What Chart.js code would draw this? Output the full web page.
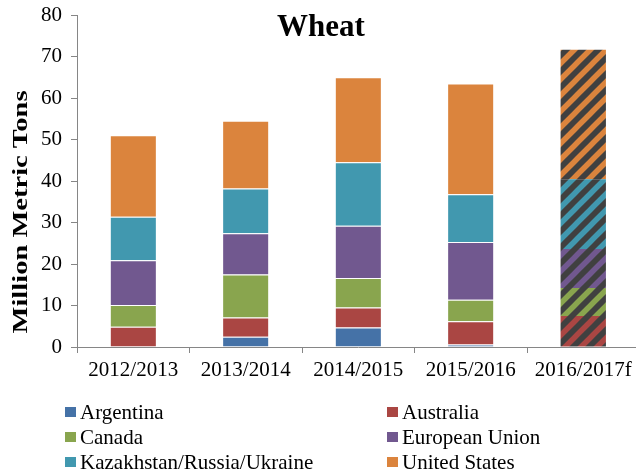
<!DOCTYPE html>
<html>
<head>
<meta charset="utf-8">
<script src="https://cdn.jsdelivr.net/npm/chart.js@4"></script>
<style>
  html, body { margin: 0; padding: 0; background: #fff; overflow: hidden; width: 636px; height: 474px; }
  #wrap { position: relative; width: 642px; height: 474px; }
</style>
</head>
<body>
<div id="wrap"><canvas id="chart" width="642" height="474"></canvas></div>
<script>
/* ---------- Data (million metric tons) ---------- */
const categories = ["2012/2013", "2013/2014", "2014/2015", "2015/2016", "2016/2017f"];
const argentina  = [0, 2.5, 4.7, 0.6, 0];
const australia  = [4.9, 4.6, 4.8, 5.6, 7.5];
const canada     = [5.2, 10.4, 7.1, 5.2, 6.7];
const eu         = [10.8, 9.9, 12.6, 13.9, 9.4];
const kru        = [10.5, 10.8, 15.3, 11.5, 16.8];
const us         = [19.6, 16.3, 20.5, 26.7, 31.2];
const yTicks     = [0, 10, 20, 30, 40, 50, 60, 70, 80];

const seriesNames  = ["Argentina", "Australia", "Canada", "European Union", "Kazakhstan/Russia/Ukraine", "United States"];
const seriesValues = [argentina, australia, canada, eu, kru, us];
const seriesColors = ["#4572A7", "#AA4643", "#89A54E", "#71588F", "#4198AF", "#DB843D"];

const FONT = '"Liberation Serif", "Times New Roman", serif';
const AXIS = "#868686";

/* ---------- Hatch pattern for forecast column ---------- */
const canvas = document.getElementById("chart");
const ctx = canvas.getContext("2d");

function hatch(color) {
  const t = document.createElement("canvas");
  t.width = 16; t.height = 16;
  const g = t.getContext("2d");
  g.fillStyle = "#404040";
  g.fillRect(0, 0, 16, 16);
  g.strokeStyle = color;
  g.lineWidth = 5.5;
  g.beginPath();
  g.moveTo(-4, 4);  g.lineTo(4, -4);
  g.moveTo(0, 16);  g.lineTo(16, 0);
  g.moveTo(12, 20); g.lineTo(20, 12);
  g.stroke();
  return ctx.createPattern(t, "repeat");
}

const isForecast = (i) => categories[i].endsWith("f");

/* ---------- Title, axis title and legend drawn on canvas ---------- */
const extras = {
  id: "extras",
  afterDraw(chart) {
    const c = chart.ctx;
    c.save();
    c.fillStyle = "#000";

    // chart title
    c.font = `bold 31px ${FONT}`;
    c.textAlign = "center";
    c.textBaseline = "alphabetic";
    c.fillText("Wheat", 321, 36);

    // y axis title (stretched along its length like the reference)
    const label = "Million Metric Tons";
    c.font = `bold 21px ${FONT}`;
    const w = c.measureText(label).width;
    c.save();
    c.translate(27, 212);
    c.rotate(-Math.PI / 2);
    c.scale(243 / w, 1);
    c.fillText(label, 0, 0);
    c.restore();

    // legend: two columns, three rows
    c.font = `21px ${FONT}`;
    c.textAlign = "left";
    c.textBaseline = "middle";
    seriesNames.forEach((name, i) => {
      const col = i % 2, row = Math.floor(i / 2);
      const x = col ? 387 : 65;
      const y = 412 + row * 25;
      c.fillStyle = seriesColors[i];
      c.fillRect(x, y - 5, 11, 10);
      c.fillStyle = "#000";
      c.fillText(name, x + 15, y + 1);
    });
    c.restore();
  }
};

/* ---------- Chart ---------- */
new Chart(ctx, {
  type: "bar",
  data: {
    labels: categories,
    datasets: seriesNames.map((name, i) => {
      const pat = hatch(seriesColors[i]);
      return {
        label: name,
        data: seriesValues[i],
        backgroundColor: (c) => (isForecast(c.dataIndex) ? pat : seriesColors[i]),
        borderColor: "rgba(255,255,255,0.45)",
        borderWidth: (c) => (isForecast(c.dataIndex) ? 0 : { top: 1, left: 0, right: 0, bottom: 0 }),
        borderSkipped: false,
        barPercentage: 0.403,
        categoryPercentage: 1,
        stack: "s",
      };
    }),
  },
  options: {
    responsive: false,
    animation: false,
    devicePixelRatio: 1,
    layout: { padding: { top: 15, left: 0, right: 2.5, bottom: 87 } },
    plugins: { legend: { display: false }, tooltip: { enabled: false }, title: { display: false } },
    scales: {
      x: {
        stacked: true,
        grid: { drawOnChartArea: false, drawTicks: true, tickLength: 6, color: AXIS, offset: true },
        border: { color: AXIS, width: 1 },
        ticks: { color: "#000", font: { family: FONT, size: 21 }, padding: 5, maxRotation: 0, autoSkip: false },
        afterFit: (s) => { s.height = 40; },
      },
      y: {
        stacked: true,
        min: yTicks[0],
        max: yTicks[yTicks.length - 1],
        afterBuildTicks: (s) => { s.ticks = yTicks.map((v) => ({ value: v })); },
        grid: { drawOnChartArea: false, drawTicks: true, tickLength: 6, color: AXIS },
        border: { color: AXIS, width: 1 },
        ticks: { color: "#000", font: { family: FONT, size: 21 }, padding: 9 },
        afterFit: (s) => { s.width = 77; s.paddingTop = 0; s.paddingBottom = 0; },
      },
    },
  },
  plugins: [extras],
});
</script>
</body>
</html>
